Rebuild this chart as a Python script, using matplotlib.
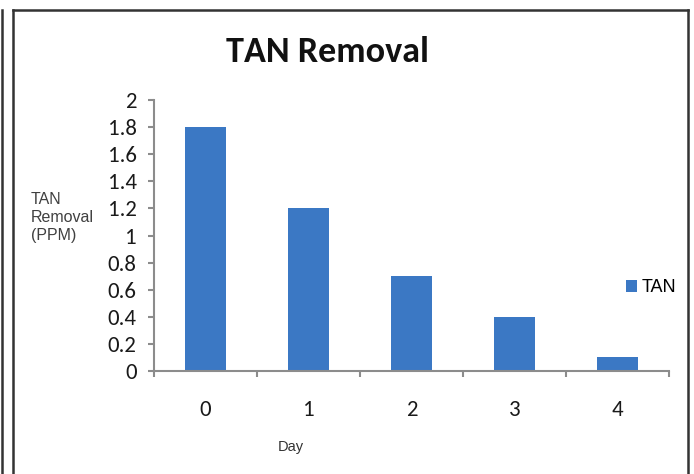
import matplotlib
matplotlib.use("Agg")
import matplotlib.pyplot as plt
from matplotlib.lines import Line2D
from matplotlib.ticker import FixedLocator

# chart data
days = ["0", "1", "2", "3", "4"]
tan_removal = [1.8, 1.2, 0.7, 0.4, 0.1]
y_ticks = [0, 0.2, 0.4, 0.6, 0.8, 1, 1.2, 1.4, 1.6, 1.8, 2]
y_tick_labels = ["0", "0.2", "0.4", "0.6", "0.8", "1", "1.2", "1.4", "1.6", "1.8", "2"]

W, H = 694, 474
calibri = ["Carlito", "DejaVu Sans"]
arial = ["Liberation Sans", "DejaVu Sans"]
bar_color = "#3B78C4"
axis_gray = "#8C8C8C"


def fx(x):
    return x / W


def fy(y):
    return 1 - y / H


fig = plt.figure(figsize=(W / 100, H / 100), dpi=100)
ax = fig.add_axes([fx(154), fy(371), fx(669) - fx(154), fy(100) - fy(371)])

pos = list(range(len(days)))
ax.bar(pos, tan_removal, width=0.4, color=bar_color, label="TAN", zorder=2)

ax.set_xlim(-0.5, len(days) - 0.5)
ax.set_ylim(0, 2)

# y axis
ax.set_yticks(y_ticks)
ax.set_yticklabels(y_tick_labels, family=calibri, fontsize=16.5, color="#1a1a1a")
ax.tick_params(axis="y", direction="out", length=4.5, width=1.5, color=axis_gray, pad=8)

# x axis: labels at centres, marks at category edges
ax.set_xticks(pos)
ax.set_xticklabels(days, family=calibri, fontsize=16.5, color="#1a1a1a")
ax.xaxis.set_minor_locator(FixedLocator([p - 0.5 for p in pos] + [len(days) - 0.5]))
ax.tick_params(axis="x", which="major", length=0, pad=21)
ax.tick_params(axis="x", which="minor", direction="out", length=4.5, width=1.5, color=axis_gray)

for side in ["top", "right"]:
    ax.spines[side].set_visible(False)
for side in ["left", "bottom"]:
    ax.spines[side].set_color(axis_gray)
    ax.spines[side].set_linewidth(1.5)

fig.text(fx(328), fy(52), "TAN Removal", family=calibri, fontsize=26, fontweight="bold",
         ha="center", va="center", color="#111111")
fig.text(fx(31), fy(218), "TAN\nRemoval\n(PPM)", family=arial, fontsize=11.5,
         ha="left", va="center", linespacing=1.25, color="#404040")
fig.text(fx(291), fy(447), "Day", family=arial, fontsize=10.5,
         ha="center", va="center", color="#333333")

fig.legend(loc="center left", bbox_to_anchor=(fx(610), fy(288)), frameon=False,
           handlelength=0.6, handleheight=0.6, handletextpad=0.25,
           prop={"family": arial, "size": 13})

# frame lines around the figure
frame = dict(color="#333333", linewidth=1.8, transform=fig.transFigure)
fig.add_artist(Line2D([fx(13), fx(13)], [fy(10), 0], **frame))
fig.add_artist(Line2D([fx(13), fx(688)], [fy(10), fy(10)], **frame))
fig.add_artist(Line2D([fx(688), fx(688)], [fy(10), 0], **frame))
fig.add_artist(Line2D([fx(1.5), fx(1.5)], [fy(10), 0], **frame))

fig.savefig("out.png", dpi=100)
